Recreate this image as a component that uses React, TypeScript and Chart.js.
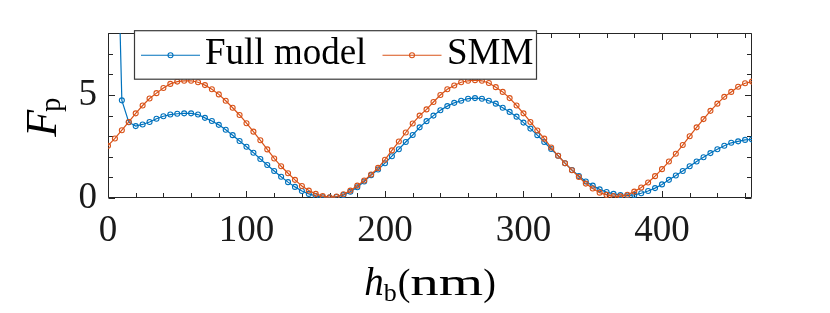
import React, { useEffect, useRef } from 'react';
import { Chart, registerables } from 'chart.js';

Chart.register(...registerables);

// ---- data ----
const hb = [
  0, 5, 10, 15, 20, 25, 30, 35, 40, 45, 50, 55, 60, 65, 70, 75, 80, 85, 90, 95,
  100, 105, 110, 115, 120, 125, 130, 135, 140, 145, 150, 155, 160, 165, 170, 175, 180, 185, 190, 195,
  200, 205, 210, 215, 220, 225, 230, 235, 240, 245, 250, 255, 260, 265, 270, 275, 280, 285, 290, 295,
  300, 305, 310, 315, 320, 325, 330, 335, 340, 345, 350, 355, 360, 365, 370, 375, 380, 385, 390, 395,
  400, 405, 410, 415, 420, 425, 430, 435, 440, 445, 450, 455, 460, 465,
];

const fullModel = [
  45, 18, 4.74, 3.68, 3.49, 3.57, 3.69, 3.85, 3.97, 4.05, 4.09, 4.11, 4.11, 4.05, 3.89, 3.74, 3.55, 3.31, 3.05, 2.77,
  2.49, 2.2, 1.89, 1.6, 1.31, 1.03, 0.77, 0.54, 0.34, 0.2, 0.1, 0.04, 0.02, 0.05, 0.14, 0.3, 0.52, 0.8, 1.11, 1.38,
  1.69, 2.03, 2.37, 2.72, 3.06, 3.43, 3.73, 4.0, 4.26, 4.46, 4.62, 4.72, 4.82, 4.85, 4.82, 4.72, 4.58, 4.38, 4.18, 3.95,
  3.66, 3.37, 3.05, 2.72, 2.38, 2.05, 1.69, 1.36, 1.07, 0.8, 0.6, 0.42, 0.29, 0.2, 0.14, 0.12, 0.15, 0.23, 0.34, 0.48,
  0.66, 0.88, 1.09, 1.31, 1.54, 1.77, 1.98, 2.18, 2.37, 2.54, 2.68, 2.75, 2.82, 2.84,
];

const smm = [
  2.54, 2.89, 3.29, 3.69, 4.11, 4.49, 4.83, 5.09, 5.34, 5.54, 5.65, 5.69, 5.69, 5.62, 5.48, 5.28, 5.03, 4.72, 4.38, 4.03,
  3.63, 3.22, 2.8, 2.36, 1.92, 1.54, 1.2, 0.88, 0.58, 0.36, 0.2, 0.09, 0.04, 0.07, 0.18, 0.36, 0.6, 0.85, 1.14, 1.46,
  1.86, 2.31, 2.74, 3.18, 3.62, 4.0, 4.3, 4.66, 5.0, 5.28, 5.46, 5.62, 5.69, 5.72, 5.69, 5.58, 5.38, 5.15, 4.85, 4.49,
  4.11, 3.69, 3.28, 2.88, 2.45, 2.05, 1.69, 1.35, 1.02, 0.7, 0.46, 0.26, 0.15, 0.09, 0.08, 0.16, 0.31, 0.51, 0.75, 1.06,
  1.4, 1.77, 2.15, 2.57, 3.0, 3.43, 3.83, 4.23, 4.58, 4.91, 5.15, 5.4, 5.57, 5.65,
];

const seriesNames = ['Full model', 'SMM'];

const xTicks = [0, 20, 40, 60, 80, 100, 120, 140, 160, 180, 200, 220, 240, 260, 280, 300, 320, 340, 360, 380, 400, 420, 440, 460];
const xMajorValues = [0, 100, 200, 300, 400];
const xMajorLabels = ['0', '100', '200', '300', '400'];
const yTicks = [0, 1, 2, 3, 4, 5, 6, 7, 8];
const yMajorValues = [0, 5];
const yMajorLabels = ['0', '5'];

const X_MIN = 0;
const X_MAX = 465;
const Y_MIN = 0;
const Y_MAX = 8;

const BLUE = '#0072BD';
const ORANGE = '#D95319';
const AXIS = '#262626';
const SERIF = '"Liberation Serif", "Times New Roman", serif';

const framePlugin = {
  id: 'frame',
  beforeDatasetsDraw(chart: any) {
    const { ctx, chartArea: a, scales } = chart;
    const xs = scales.x;
    const ys = scales.y;
    ctx.save();
    ctx.strokeStyle = AXIS;
    ctx.lineWidth = 1;
    const L = Math.round(a.left) + 0.5;
    const R = Math.round(a.right) - 0.5;
    const T = Math.round(a.top) + 0.5;
    const B = Math.round(a.bottom) - 0.5;
    ctx.beginPath();
    ctx.rect(L, T, R - L, B - T);
    ctx.stroke();
    ctx.beginPath();
    xTicks.forEach((v) => {
      const px = Math.round(xs.getPixelForValue(v)) + 0.5;
      const len = xMajorValues.includes(v) ? 6.5 : 4.5;
      ctx.moveTo(px, B);
      ctx.lineTo(px, B - len);
      ctx.moveTo(px, T);
      ctx.lineTo(px, T + len);
    });
    yTicks.forEach((v) => {
      const py = Math.round(ys.getPixelForValue(v)) + 0.5;
      const len = yMajorValues.includes(v) ? 6.5 : 4.5;
      ctx.moveTo(L, py);
      ctx.lineTo(L + len, py);
      ctx.moveTo(R, py);
      ctx.lineTo(R - len, py);
    });
    ctx.stroke();
    ctx.restore();
  },
  afterDraw(chart: any) {
    const { ctx, chartArea: a } = chart;
    ctx.save();
    // ---- legend ----
    const lx = a.left + 26.5;
    const ly = a.top - 2.5;
    const lw = 402;
    const lh = 48.5;
    ctx.fillStyle = '#ffffff';
    ctx.fillRect(lx, ly, lw, lh);
    ctx.strokeStyle = '#3a3a3a';
    ctx.lineWidth = 1.2;
    ctx.strokeRect(lx, ly, lw, lh);
    const items = [
      { name: seriesNames[0], color: BLUE, x0: lx + 6.5, textX: lx + 70.5 },
      { name: seriesNames[1], color: ORANGE, x0: lx + 248, textX: lx + 312.5 },
    ];
    const midY = ly + 24.5;
    items.forEach((it) => {
      ctx.strokeStyle = it.color;
      ctx.lineWidth = 1.1;
      ctx.beginPath();
      ctx.moveTo(it.x0, midY);
      ctx.lineTo(it.x0 + 59, midY);
      ctx.stroke();
      ctx.beginPath();
      ctx.arc(it.x0 + 29.5, midY, 2.5, 0, Math.PI * 2);
      ctx.stroke();
      ctx.fillStyle = '#000000';
      ctx.font = `37px ${SERIF}`;
      ctx.textBaseline = 'alphabetic';
      ctx.textAlign = 'left';
      ctx.fillText(it.name, it.textX, ly + 33.5);
    });

    // ---- x axis title: h_b(nm) ----
    ctx.fillStyle = '#000000';
    ctx.textBaseline = 'alphabetic';
    ctx.textAlign = 'left';
    const base = 295;
    ctx.font = `italic 39px ${SERIF}`;
    const wh = ctx.measureText('h').width;
    ctx.font = `26px ${SERIF}`;
    const wb = ctx.measureText('b').width;
    ctx.font = `38px ${SERIF}`;
    const wp = ctx.measureText('(').width;
    const nmScale = 1.5;
    const wnm = ctx.measureText('nm').width * nmScale;
    const total = wh + wb + 1 + wp * 2 + wnm;
    let cx = (a.left + a.right) / 2 - total / 2;
    ctx.font = `italic 39px ${SERIF}`;
    ctx.fillText('h', cx, base);
    cx += wh;
    ctx.font = `26px ${SERIF}`;
    ctx.fillText('b', cx, base + 6);
    cx += wb + 1;
    ctx.font = `38px ${SERIF}`;
    ctx.fillText('(', cx, base);
    cx += wp;
    ctx.save();
    ctx.translate(cx, base);
    ctx.scale(nmScale, 1);
    ctx.fillText('nm', 0, 0);
    ctx.restore();
    cx += wnm;
    ctx.fillText(')', cx, base);

    // ---- y axis title: F_p ----
    ctx.save();
    ctx.translate(55.5, (a.top + a.bottom) / 2 + 1.5);
    ctx.rotate(-Math.PI / 2);
    ctx.font = `italic 44px ${SERIF}`;
    const wF = ctx.measureText('F').width;
    ctx.font = `29px ${SERIF}`;
    const wpp = ctx.measureText('p').width;
    const tot = wF + wpp - 2;
    ctx.font = `italic 44px ${SERIF}`;
    ctx.fillText('F', -tot / 2, 0);
    ctx.font = `29px ${SERIF}`;
    ctx.fillText('p', -tot / 2 + wF - 2, 4.5);
    ctx.restore();

    ctx.restore();
  },
};

export default function App() {
  const ref = useRef<HTMLCanvasElement | null>(null);

  useEffect(() => {
    document.body.style.margin = '0';
    const canvas = ref.current;
    if (!canvas) return;
    const chart = new Chart(canvas, {
      type: 'line',
      data: {
        datasets: [
          {
            label: seriesNames[0],
            data: hb.map((x, i) => ({ x, y: fullModel[i] })),
            borderColor: BLUE,
            backgroundColor: 'rgba(0,0,0,0)',
            pointBorderColor: BLUE,
            pointBackgroundColor: 'rgba(0,0,0,0)',
            borderWidth: 1.2,
            pointRadius: 2.5,
            pointBorderWidth: 1.1,
            tension: 0,
            order: 1,
          },
          {
            label: seriesNames[1],
            data: hb.map((x, i) => ({ x, y: smm[i] })),
            borderColor: ORANGE,
            backgroundColor: 'rgba(0,0,0,0)',
            pointBorderColor: ORANGE,
            pointBackgroundColor: 'rgba(0,0,0,0)',
            borderWidth: 1.2,
            pointRadius: 2.5,
            pointBorderWidth: 1.1,
            tension: 0,
            order: 0,
          },
        ],
      },
      options: {
        responsive: false,
        animation: false,
        devicePixelRatio: 1,
        layout: { padding: { left: 0, right: 78, top: 24, bottom: 0 } },
        plugins: { legend: { display: false }, tooltip: { enabled: false } },
        scales: {
          x: {
            type: 'linear',
            min: X_MIN,
            max: X_MAX,
            afterBuildTicks: (s: any) => {
              s.ticks = xTicks.map((v) => ({ value: v }));
            },
            afterFit: (s: any) => {
              s.height = 115;
            },
            grid: { display: false, drawTicks: false },
            border: { display: false },
            ticks: {
              autoSkip: false,
              maxRotation: 0,
              padding: 11,
              color: '#1a1a1a',
              font: { family: SERIF, size: 37 },
              callback: (v: any) => {
                const i = xMajorValues.indexOf(Number(v));
                return i >= 0 ? xMajorLabels[i] : '';
              },
            },
          },
          y: {
            type: 'linear',
            min: Y_MIN,
            max: Y_MAX,
            afterBuildTicks: (s: any) => {
              s.ticks = yTicks.map((v) => ({ value: v }));
            },
            afterFit: (s: any) => {
              s.width = 108;
            },
            grid: { display: false, drawTicks: false },
            border: { display: false },
            ticks: {
              autoSkip: false,
              padding: 11,
              color: '#1a1a1a',
              font: { family: SERIF, size: 37 },
              callback: (v: any) => {
                const i = yMajorValues.indexOf(Number(v));
                return i >= 0 ? yMajorLabels[i] : '';
              },
            },
          },
        },
      },
      plugins: [framePlugin],
    } as any);
    return () => chart.destroy();
  }, []);

  return (
    <div style={{ position: 'fixed', left: 0, top: 0, width: 830, height: 313, background: '#fff' }}>
      <canvas ref={ref} width={830} height={313} />
    </div>
  );
}
